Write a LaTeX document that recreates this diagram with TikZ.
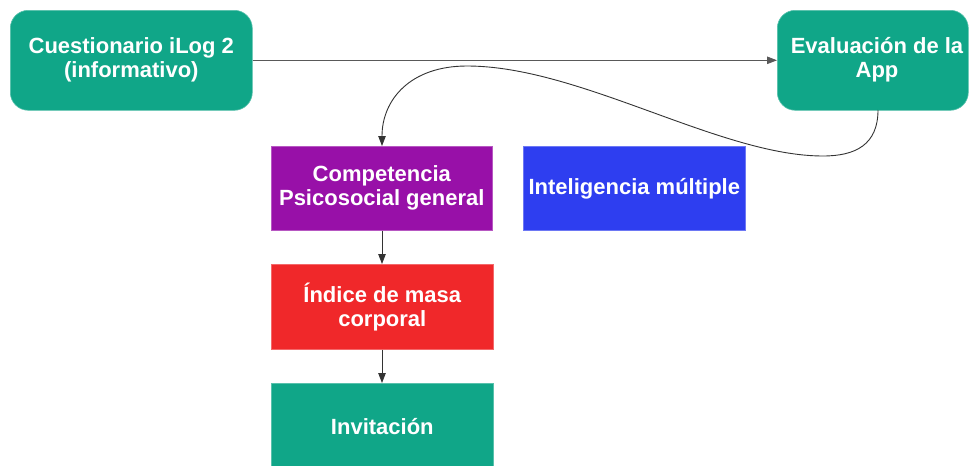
\documentclass[tikz,border=0pt]{standalone}
\usepackage{fontspec}
\setmainfont{Liberation Sans}
\usetikzlibrary{arrows.meta}
\definecolor{cgreen}{RGB}{16,166,136}
\definecolor{cpurple}{RGB}{152,16,168}
\definecolor{cred}{RGB}{240,40,42}
\definecolor{cblue}{RGB}{46,62,240}
\begin{document}
\begin{tikzpicture}[x=1pt,y=-1pt,
  txt/.style={text=white, font=\fontsize{22}{24}\selectfont\bfseries, align=center},
  box/.style={txt, draw=#1!70!white, line width=0.6pt, fill=#1, inner sep=0pt, anchor=north west},
  rbox/.style={box=#1, rounded corners=18pt},
  conn/.style={draw=black!80, line width=0.9pt, -{Triangle[length=10pt,width=7.5pt]}}]
\useasboundingbox (0,0) rectangle (970,466);
\node[rbox=cgreen, minimum width=242pt, minimum height=100pt] (q) at (10,10) {Cuestionario iLog 2\\(informativo)};
\node[rbox=cgreen, minimum width=191pt, minimum height=100pt] (ev) at (777,10) {};
\node[txt] (evt) at (877,60) {Evaluación de la\\App};
\node[box=cpurple, minimum width=221pt, minimum height=84pt] (comp) at (271,146) {Competencia\\Psicosocial general};
\node[box=cblue, minimum width=222pt, minimum height=84pt] (intel) at (523,146) {Inteligencia múltiple};
\node[box=cred, minimum width=222pt, minimum height=85pt] (imc) at (271,264) {Índice de masa\\corporal};
\node[box=cgreen, minimum width=222pt, minimum height=86pt] (inv) at (271,383) {Invitación};
\draw[conn, draw=black!65] (q.east) -- (ev.west);
\coordinate (c1) at (878,110);
\draw[conn] (c1) .. controls (878,145) and (855,156) .. (823,156)
  .. controls (720,156) and (580,66) .. (467,66)
  .. controls (410,66) and (382,100) .. (comp.north -| 382,0);
\draw[conn] (comp.south -| 382,0) -- (imc.north -| 382,0);
\draw[conn] (imc.south -| 382,0) -- (inv.north -| 382,0);
\end{tikzpicture}
\end{document}
